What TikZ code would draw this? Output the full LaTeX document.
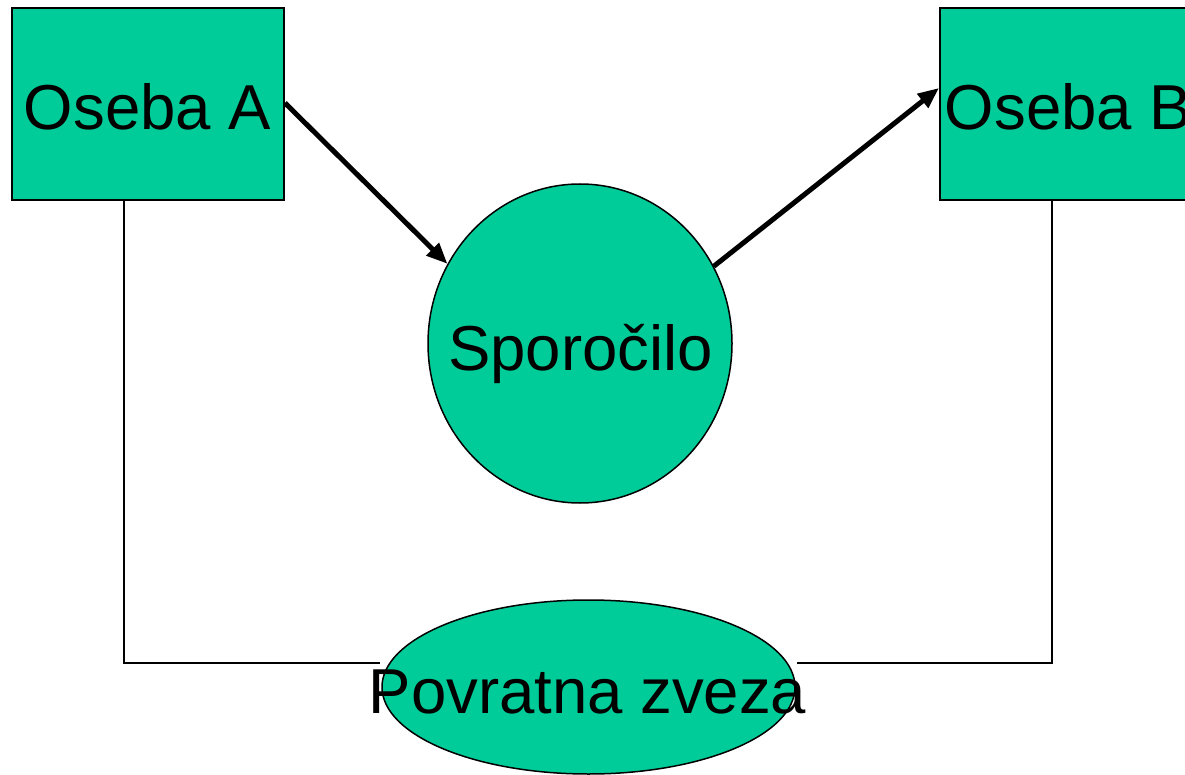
\documentclass[tikz,border=0pt]{standalone}
\usepackage{fontspec}
\setmainfont{Liberation Sans}
\usetikzlibrary{arrows.meta,shapes.geometric}
\definecolor{fillgreen}{RGB}{0,204,153}
\begin{document}
\begin{tikzpicture}[x=1pt,y=-1pt,
  boxnode/.style={draw=black,line width=2pt,fill=fillgreen,rectangle,minimum width=272pt,minimum height=192pt,inner sep=0pt},
  ellnode/.style={draw=black,line width=1.5pt,fill=fillgreen,ellipse,inner sep=0pt},
  labeltext/.style={font=\fontsize{63.5}{70}\selectfont,anchor=base,inner sep=0pt,text=black},
  thickarrow/.style={line width=5pt,-{Triangle[length=21pt,width=17pt]}},
  thinline/.style={line width=1.5pt}]
\useasboundingbox (0,0) rectangle (1185,775);
\clip (0,0) rectangle (1185,775);
\fill[white] (0,0) rectangle (1185,775);
\node[boxnode] (A) at (148,104) {};
\node[boxnode] (B) at (1076,104) {};
\node[ellnode,minimum width=304pt,minimum height=319pt] (S) at (580,343.5) {};
\node[ellnode,minimum width=413pt,minimum height=174pt] (F) at (588.5,687) {};
\node[labeltext] (tA) at (147.5,130) {Oseba A};
\node[labeltext] (tB) at (1068.5,130) {Oseba B};
\node[labeltext] (tS) at (580.5,370) {Sporočilo};
\node[labeltext] (tF) at (587.5,713) {Povratna zveza};
\coordinate (fa) at (380,663);
\coordinate (fb) at (797,663);
\draw[thickarrow] ([yshift=1pt]A.east) -- (S.149.6);
\draw[thickarrow] (S.30.4) -- ([yshift=16pt]B.west);
\draw[thinline] ([xshift=-24pt]A.south) |- (fa);
\draw[thinline] ([xshift=-24pt]B.south) |- (fb);
\end{tikzpicture}
\end{document}
